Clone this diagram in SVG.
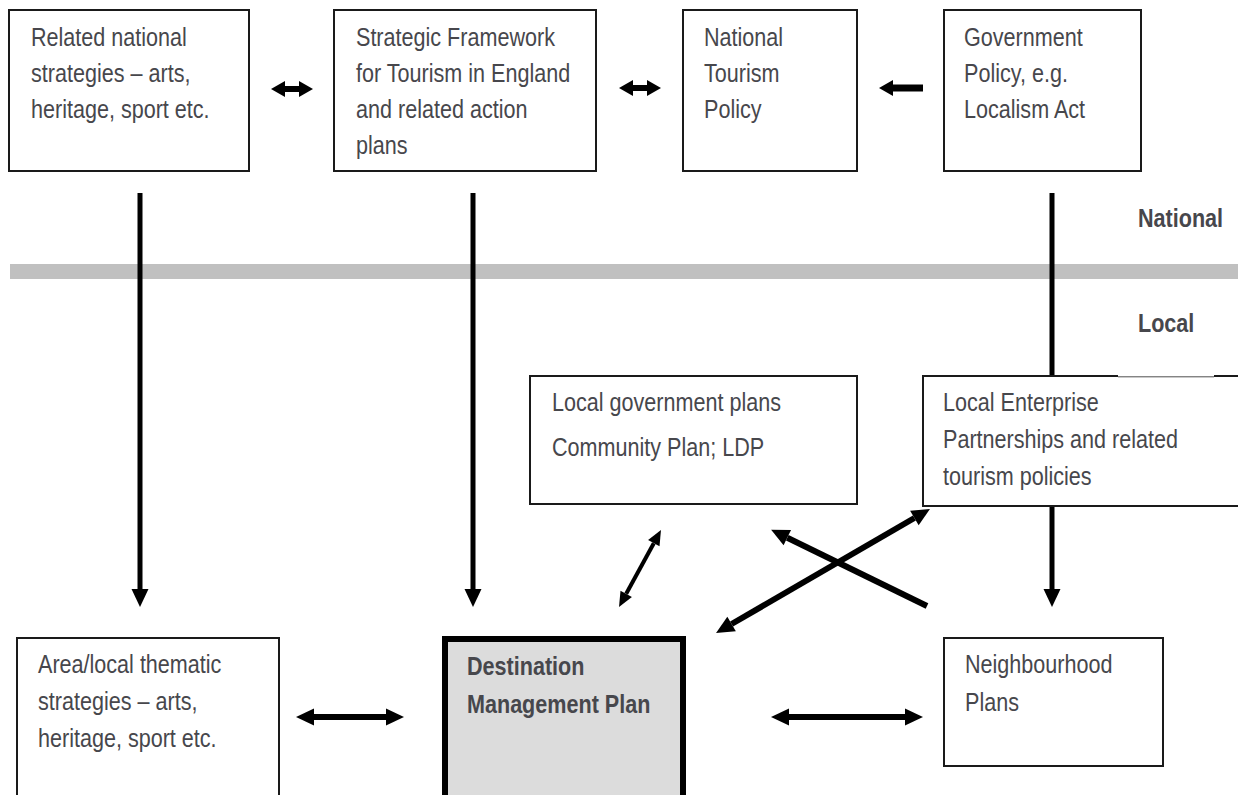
<svg xmlns="http://www.w3.org/2000/svg" width="1238" height="795" viewBox="0 0 1238 795">
<style>
.box{fill:#fff;stroke:#1a1a1a;stroke-width:2}
.dmp{fill:#dcdcdc;stroke:#000;stroke-width:6}
.t{font-family:"Liberation Sans",Arial,sans-serif;font-size:26px;fill:#47474c}
.b{font-weight:bold}
.c{stroke:#000;fill:none}
</style>
<defs>
<marker id="m1" markerUnits="userSpaceOnUse" markerWidth="18" markerHeight="17" refX="0" refY="8.5" orient="auto-start-reverse" overflow="visible"><path d="M0,0 L18,8.5 L0,17 z" fill="#000"/></marker>
<marker id="m2" markerUnits="userSpaceOnUse" markerWidth="14" markerHeight="16" refX="0" refY="8" orient="auto-start-reverse" overflow="visible"><path d="M0,0 L14,8 L0,16 z" fill="#000"/></marker>
<marker id="m3" markerUnits="userSpaceOnUse" markerWidth="15" markerHeight="13" refX="0" refY="6.5" orient="auto-start-reverse" overflow="visible"><path d="M0,0 L15,6.5 L0,13 z" fill="#000"/></marker>
</defs>
<rect width="1238" height="795" fill="#fff"/>
<rect id="divider" x="10" y="264" width="1228" height="15" fill="#c0c0c0"/>
<g id="labels">
<text class="t b" transform="translate(1138,227) scale(0.83,1)">National</text>
<text class="t b" transform="translate(1138,332) scale(0.83,1)">Local</text>
</g>
<g id="connectors" class="c">
<line x1="285" y1="89" x2="299" y2="89" stroke-width="6" marker-start="url(#m2)" marker-end="url(#m2)"/>
<line x1="633" y1="88" x2="647" y2="88" stroke-width="6" marker-start="url(#m2)" marker-end="url(#m2)"/>
<line x1="923" y1="88" x2="893" y2="88" stroke-width="7" marker-end="url(#m2)"/>
<line x1="140" y1="193" x2="140" y2="589" stroke-width="5" marker-end="url(#m1)"/>
<line x1="473" y1="193" x2="473" y2="589" stroke-width="5" marker-end="url(#m1)"/>
<line x1="1052" y1="193" x2="1052" y2="376" stroke-width="5"/>
<line x1="1052" y1="506" x2="1052" y2="589" stroke-width="5" marker-end="url(#m1)"/>
<line x1="626.2" y1="593.8" x2="653.8" y2="543.2" stroke-width="4" marker-start="url(#m3)" marker-end="url(#m3)"/>
<line x1="927" y1="606" x2="787.3" y2="537.7" stroke-width="6" marker-end="url(#m1)"/>
<line x1="731.6" y1="624" x2="914.4" y2="518" stroke-width="6" marker-start="url(#m1)" marker-end="url(#m1)"/>
<line x1="314" y1="717" x2="386" y2="717" stroke-width="6" marker-start="url(#m1)" marker-end="url(#m1)"/>
<line x1="789" y1="717" x2="905" y2="717" stroke-width="6" marker-start="url(#m1)" marker-end="url(#m1)"/>
</g>
<g id="n-related-national">
<rect class="box" x="9" y="10" width="240" height="161"/>
<text class="t" transform="translate(31,46) scale(0.83,1)">Related national</text>
<text class="t" transform="translate(31,82) scale(0.83,1)">strategies – arts,</text>
<text class="t" transform="translate(31,118) scale(0.83,1)">heritage, sport etc.</text>
</g>
<g id="n-strategic-framework">
<rect class="box" x="334" y="10" width="262" height="161"/>
<text class="t" transform="translate(356,46) scale(0.83,1)">Strategic Framework</text>
<text class="t" transform="translate(356,82) scale(0.83,1)">for Tourism in England</text>
<text class="t" transform="translate(356,118) scale(0.83,1)">and related action</text>
<text class="t" transform="translate(356,154) scale(0.83,1)">plans</text>
</g>
<g id="n-national-tourism">
<rect class="box" x="683" y="10" width="174" height="161"/>
<text class="t" transform="translate(704,46) scale(0.83,1)">National</text>
<text class="t" transform="translate(704,82) scale(0.83,1)">Tourism</text>
<text class="t" transform="translate(704,118) scale(0.83,1)">Policy</text>
</g>
<g id="n-government-policy">
<rect class="box" x="944" y="10" width="197" height="161"/>
<text class="t" transform="translate(964,46) scale(0.83,1)">Government</text>
<text class="t" transform="translate(964,82) scale(0.83,1)">Policy, e.g.</text>
<text class="t" transform="translate(964,118) scale(0.83,1)">Localism Act</text>
</g>
<g id="n-local-government">
<rect class="box" x="530" y="376" width="327" height="128"/>
<text class="t" transform="translate(552,411) scale(0.83,1)">Local government plans</text>
<text class="t" transform="translate(552,456) scale(0.83,1)">Community Plan; LDP</text>
</g>
<g id="n-lep">
<rect class="box" x="923" y="376" width="330" height="130"/>
<line x1="1118" y1="375.5" x2="1214" y2="375.5" stroke="#fff" stroke-width="2"/>
<line x1="1118" y1="377" x2="1214" y2="377" stroke="#777" stroke-width="0.8"/>
<text class="t" transform="translate(943,411) scale(0.83,1)">Local Enterprise</text>
<text class="t" transform="translate(943,448) scale(0.83,1)">Partnerships and related</text>
<text class="t" transform="translate(943,485) scale(0.83,1)">tourism policies</text>
</g>
<g id="n-area-local">
<rect class="box" x="17" y="638" width="262" height="170"/>
<text class="t" transform="translate(38,673) scale(0.83,1)">Area/local thematic</text>
<text class="t" transform="translate(38,710) scale(0.83,1)">strategies – arts,</text>
<text class="t" transform="translate(38,747) scale(0.83,1)">heritage, sport etc.</text>
</g>
<g id="n-dmp">
<rect class="dmp" x="445" y="639" width="238" height="180"/>
<text class="t b" transform="translate(467,675) scale(0.83,1)">Destination</text>
<text class="t b" transform="translate(467,713) scale(0.83,1)">Management Plan</text>
</g>
<g id="n-neighbourhood">
<rect class="box" x="944" y="638" width="219" height="128"/>
<text class="t" transform="translate(965,673) scale(0.83,1)">Neighbourhood</text>
<text class="t" transform="translate(965,711) scale(0.83,1)">Plans</text>
</g>
</svg>
